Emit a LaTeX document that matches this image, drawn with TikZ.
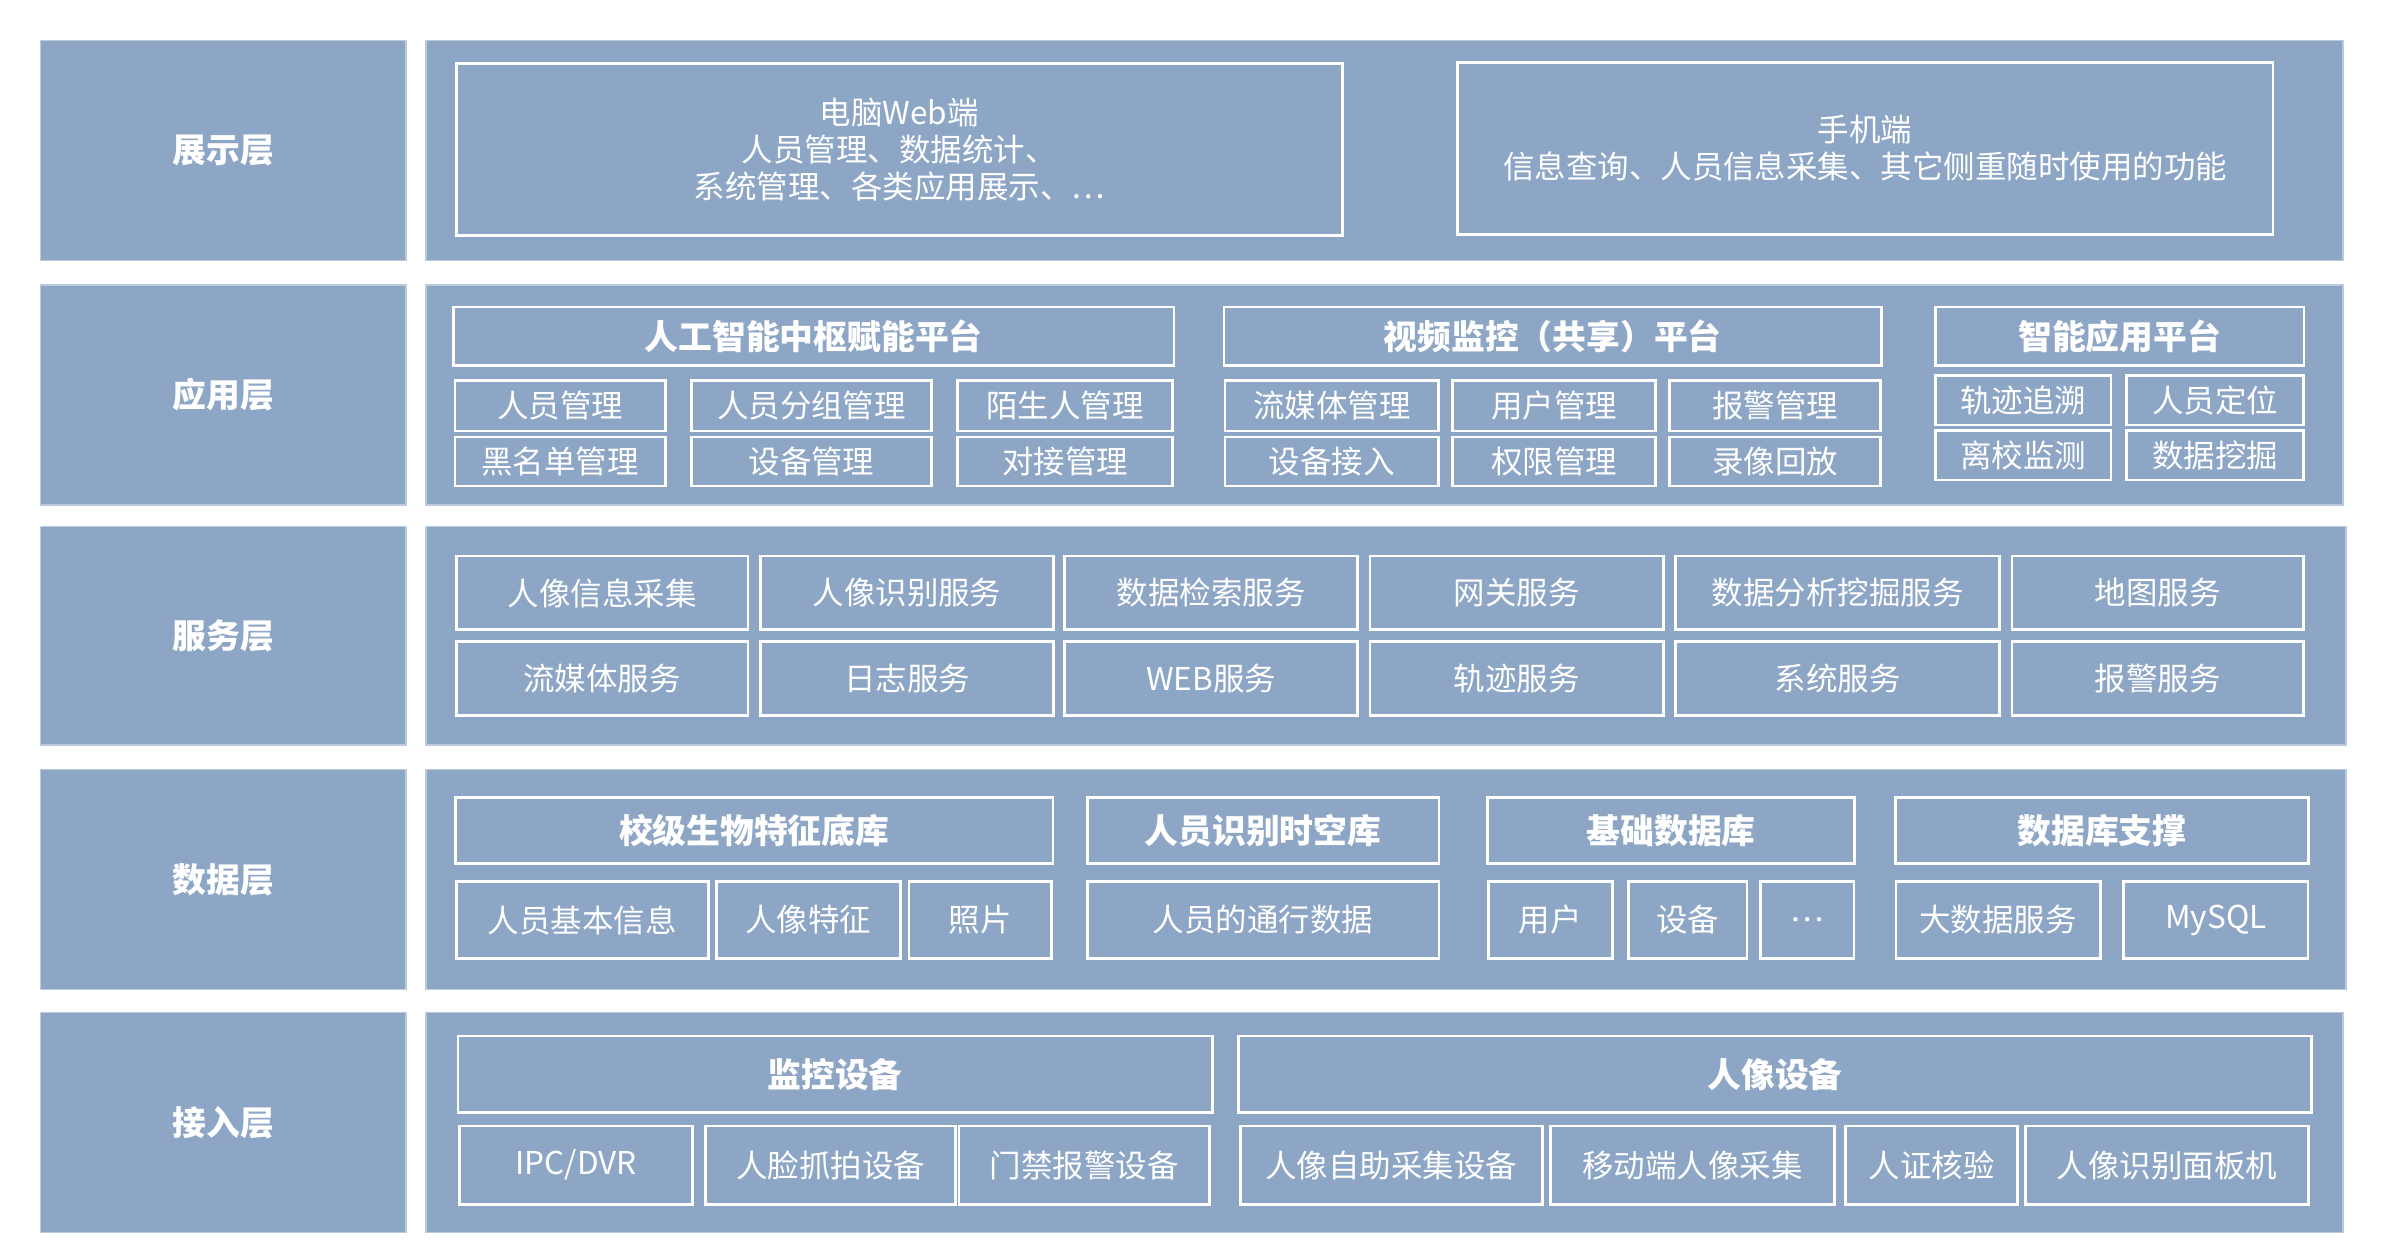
\documentclass[tikz,border=0pt]{standalone}
\usepackage{fontspec}
\newfontfamily\cjk{Noto Sans CJK SC}
\definecolor{bg}{HTML}{8EA6C6}
\tikzset{
 panel/.style={fill=bg,draw=bg!60!white,line width=1pt,inner sep=0},
 box/.style={draw=white,line width=1.8pt,inner sep=0,text=white,font=\cjk\fontsize{20.5}{24}\selectfont,align=center},
 head/.style={box,font=\cjk\bfseries\fontsize{22}{26}\selectfont},
 lab/.style={panel,text=white,font=\cjk\bfseries\fontsize{22}{26}\selectfont}
}
\newcommand\bx[7]{\node[#1,minimum width={(#4-#2)*1pt},minimum height={(#5-#3)*1pt}] (#6) at ({(#2+#4)/2},{(#3+#5)/2}) {#7};}
\begin{document}
\begin{tikzpicture}[x=0.995pt,y=-0.995pt]
\useasboundingbox (0,0) rectangle (1560,823);
\fill[white] (0,0) rectangle (1560,823);
% layers
\bx{lab}{27}{27}{265}{170}{l1}{展示层}
\bx{lab}{27}{187}{265}{330}{l2}{应用层}
\bx{lab}{27}{345}{265}{487}{l3}{服务层}
\bx{lab}{27}{504}{265}{647}{l4}{数据层}
\bx{lab}{27}{663}{265}{806}{l5}{接入层}
\bx{panel}{282}{27}{1530}{170}{p1}{}
\bx{panel}{282}{187}{1530}{330}{p2}{}
\bx{panel}{282}{345}{1532}{487}{p3}{}
\bx{panel}{282}{504}{1532}{647}{p4}{}
\bx{panel}{282}{663}{1530}{806}{p5}{}
% row1
\bx{box}{300}{42}{877}{154}{a1}{电脑Web端\\人员管理、数据统计、\\系统管理、各类应用展示、…}
\bx{box}{955}{41}{1486}{153}{a2}{手机端\\信息查询、人员信息采集、其它侧重随时使用的功能}
% row2
\bx{head}{298}{201}{767}{239}{b1}{人工智能中枢赋能平台}
\bx{head}{802}{201}{1230}{239}{b2}{视频监控（共享）平台}
\bx{head}{1267}{201}{1507}{239}{b3}{智能应用平台}
\bx{box}{298}{249}{435}{282}{b11}{人员管理}
\bx{box}{453}{249}{609}{282}{b12}{人员分组管理}
\bx{box}{627}{249}{767}{282}{b13}{陌生人管理}
\bx{box}{298}{286}{435}{318}{b14}{黑名单管理}
\bx{box}{453}{286}{609}{318}{b15}{设备管理}
\bx{box}{627}{286}{767}{318}{b16}{对接管理}
\bx{box}{802}{249}{941}{282}{b21}{流媒体管理}
\bx{box}{951}{249}{1083}{282}{b22}{用户管理}
\bx{box}{1093}{249}{1230}{282}{b23}{报警管理}
\bx{box}{802}{286}{941}{318}{b24}{设备接入}
\bx{box}{951}{286}{1083}{318}{b25}{权限管理}
\bx{box}{1093}{286}{1230}{318}{b26}{录像回放}
\bx{box}{1267}{246}{1381}{278}{b31}{轨迹追溯}
\bx{box}{1392}{246}{1507}{278}{b32}{人员定位}
\bx{box}{1267}{282}{1381}{314}{b33}{离校监测}
\bx{box}{1392}{282}{1507}{314}{b34}{数据挖掘}
% row3
\bx{box}{299}{364}{489}{412}{c1}{人像信息采集}
\bx{box}{498}{364}{689}{412}{c2}{人像识别服务}
\bx{box}{697}{364}{888}{412}{c3}{数据检索服务}
\bx{box}{897}{364}{1088}{412}{c4}{网关服务}
\bx{box}{1097}{364}{1308}{412}{c5}{数据分析挖掘服务}
\bx{box}{1317}{364}{1507}{412}{c6}{地图服务}
\bx{box}{299}{420}{489}{468}{c7}{流媒体服务}
\bx{box}{498}{420}{689}{468}{c8}{日志服务}
\bx{box}{697}{420}{888}{468}{c9}{WEB服务}
\bx{box}{897}{420}{1088}{468}{c10}{轨迹服务}
\bx{box}{1097}{420}{1308}{468}{c11}{系统服务}
\bx{box}{1317}{420}{1507}{468}{c12}{报警服务}
% row4
\bx{head}{299}{522}{688}{565}{d1}{校级生物特征底库}
\bx{head}{712}{522}{941}{565}{d2}{人员识别时空库}
\bx{head}{974}{522}{1213}{565}{d3}{基础数据库}
\bx{head}{1241}{522}{1510}{565}{d4}{数据库支撑}
\bx{box}{299}{577}{463}{627}{d11}{人员基本信息}
\bx{box}{469}{577}{589}{627}{d12}{人像特征}
\bx{box}{595}{577}{688}{627}{d13}{照片}
\bx{box}{712}{577}{941}{627}{d21}{人员的通行数据}
\bx{box}{974}{577}{1055}{627}{d31}{用户}
\bx{box}{1066}{577}{1143}{627}{d32}{设备}
\bx{box}{1152}{577}{1213}{627}{d33}{…}
\bx{box}{1241}{577}{1374}{627}{d41}{大数据服务}
\bx{box}{1390}{577}{1510}{627}{d42}{MySQL}
% row5
\bx{head}{301}{678}{792}{728}{e1}{监控设备}
\bx{head}{812}{678}{1511}{728}{e2}{人像设备}
\bx{box}{301}{737}{453}{788}{e11}{IPC/DVR}
\bx{box}{462}{737}{625}{788}{e12}{人脸抓拍设备}
\bx{box}{628}{737}{791}{788}{e13}{门禁报警设备}
\bx{box}{812}{737}{1009}{788}{e21}{人像自助采集设备}
\bx{box}{1015}{737}{1200}{788}{e22}{移动端人像采集}
\bx{box}{1208}{737}{1320}{788}{e23}{人证核验}
\bx{box}{1326}{737}{1510}{788}{e24}{人像识别面板机}
\end{tikzpicture}
\end{document}
